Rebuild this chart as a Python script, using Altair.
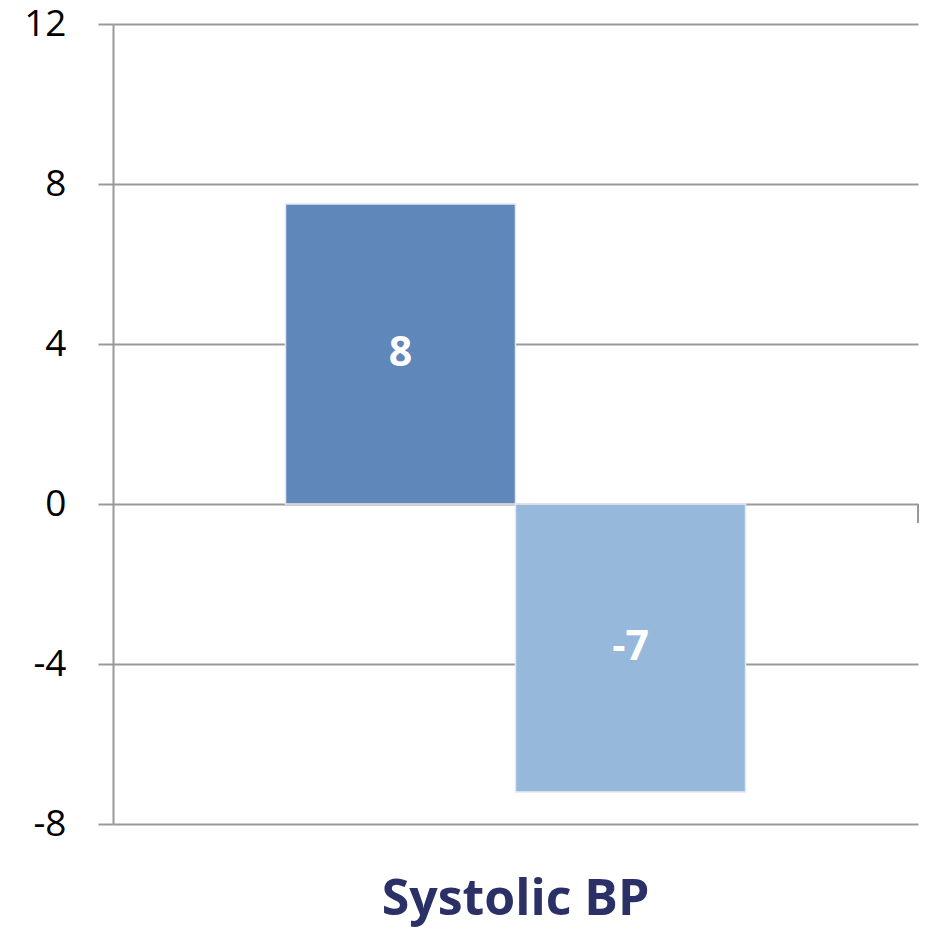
import altair as alt
import pandas as pd

category = ["Systolic BP", "Systolic BP"]
series = ["Group 1", "Group 2"]
values = [7.5, -7.2]
labels = ["8", "-7"]
colors = ["#5f87b9", "#95b8db"]
y_ticks = [-8, -4, 0, 4, 8, 12]

df = pd.DataFrame({"category": category, "series": series, "value": values, "label": labels})

FONT = "Open Sans"
GRAY = "#999999"

x_enc = alt.X(
    "category:N",
    scale=alt.Scale(paddingInner=0, paddingOuter=0.375),
    axis=alt.Axis(
        title=None, domain=False, ticks=False, labelAngle=0,
        labelFontSize=50, labelFont=FONT, labelFontWeight="bold",
        labelColor="#2b3166", labelPadding=90, labelBaseline="alphabetic",
        labelLimit=0, labelOverlap=False,
    ),
)
xoff = alt.XOffset("series:N", scale=alt.Scale(paddingInner=0, paddingOuter=0))
y_scale = alt.Scale(domain=[-8, 12], nice=False, zero=False)

base = alt.Chart(df)

bars = base.mark_bar(stroke="#e4e9f0", strokeWidth=1.5).encode(
    x=x_enc,
    xOffset=xoff,
    y=alt.Y(
        "value:Q",
        scale=y_scale,
        axis=alt.Axis(
            values=y_ticks, title=None, grid=True, gridColor=GRAY, gridWidth=2,
            domainColor=GRAY, domainWidth=2, tickColor=GRAY, tickWidth=2,
            tickSize=15, labelPadding=32, labelFontSize=37, labelFont=FONT,
            labelColor="black", labelExpr="'' + datum.value",
        ),
    ),
    y2=alt.datum(0),
    color=alt.Color("series:N", scale=alt.Scale(domain=series, range=colors), legend=None),
)

text = base.transform_calculate(mid="datum.value / 2").mark_text(
    color="white", fontSize=41, fontWeight="bold", font=FONT, baseline="middle"
).encode(
    x=x_enc,
    xOffset=xoff,
    y=alt.Y("mid:Q", scale=y_scale),
    text="label:N",
)

end_tick = base.mark_rule(color=GRAY, strokeWidth=2).encode(
    x=alt.value(805), y=alt.datum(0), y2=alt.datum(-0.475)
)

chart = alt.layer(bars, text, end_tick).properties(
    width=805, height=800,
    autosize=alt.AutoSizeParams(type="none"),
    padding={"left": 105, "top": 16, "right": 1, "bottom": 104},
).configure_view(stroke=None)

chart.save("out.html", embed_options={"renderer": "svg", "actions": False})
